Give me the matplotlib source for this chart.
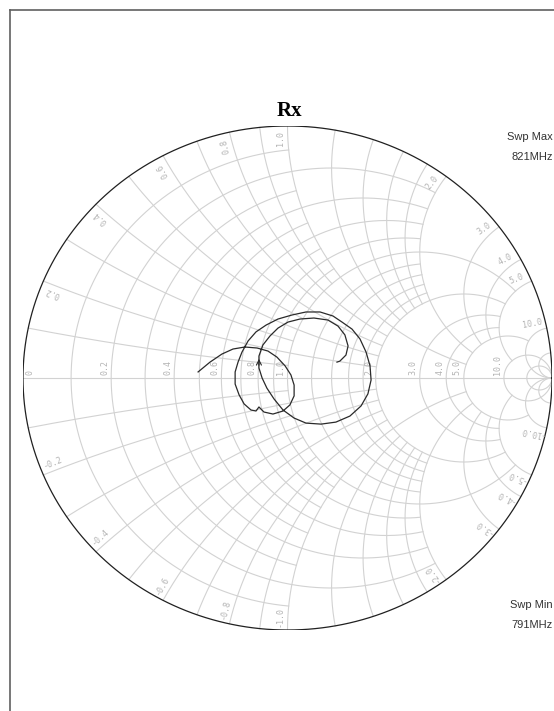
"""plot.py - Rx Smith chart (reflection coefficient trace)"""

import numpy as np
import matplotlib
matplotlib.use("Agg")
import matplotlib.pyplot as plt

# === DATA ===
# trace, reflection coefficient read off the chart (real / imag)
GAMMA_RE = [
    -0.338, -0.293, -0.248, -0.206, -0.161, -0.115, -0.074, -0.040, -0.009, 0.013,
    0.025, 0.025, 0.009, -0.017, -0.055, -0.089, -0.108, -0.119, -0.138, -0.164,
    -0.183, -0.198, -0.198, -0.187, -0.172, -0.149, -0.119, -0.081, -0.036, 0.017,
    0.070, 0.123, 0.172, 0.206, 0.244, 0.274, 0.297, 0.312, 0.316, 0.304,
    0.278, 0.236, 0.183, 0.127, 0.070, 0.025, -0.017, -0.051, -0.078, -0.096,
    -0.108, -0.108, -0.093, -0.066, -0.036, 0.002, 0.047, 0.100, 0.153, 0.191,
    0.217, 0.229, 0.221, 0.198, 0.187,
]
GAMMA_IM = [
    0.024, 0.063, 0.095, 0.115, 0.123, 0.119, 0.107, 0.083, 0.048, 0.012,
    -0.028, -0.071, -0.107, -0.131, -0.143, -0.135, -0.115, -0.131, -0.127, -0.103,
    -0.067, -0.024, 0.024, 0.063, 0.103, 0.147, 0.183, 0.210, 0.234, 0.250,
    0.262, 0.262, 0.246, 0.222, 0.194, 0.155, 0.103, 0.048, -0.008, -0.063,
    -0.111, -0.151, -0.175, -0.183, -0.179, -0.159, -0.127, -0.083, -0.040, 0.000,
    0.040, 0.087, 0.131, 0.167, 0.198, 0.222, 0.234, 0.238, 0.230, 0.206,
    0.171, 0.127, 0.091, 0.067, 0.063,
]

# grid: constant resistance circles and the reactance they run to
R_GRID = [0.1, 0.2, 0.3, 0.4, 0.5, 0.6, 0.7, 0.8, 0.9, 1.0,
          1.2, 1.4, 1.6, 1.8, 2.0, 3.0, 4.0, 5.0, 10.0, 20.0]
R_XMAX = [1, 2, 1, 2, 1, 2, 1, 2, 1, 5,
          2, 2, 2, 2, 5, 5, 5, 10, np.inf, np.inf]
# constant reactance arcs and the resistance they run to
X_GRID = [0.1, 0.2, 0.3, 0.4, 0.5, 0.6, 0.7, 0.8, 0.9, 1.0,
          1.2, 1.4, 1.6, 1.8, 2.0, 3.0, 4.0, 5.0, 10.0, 20.0]
X_RMAX = [1, 2, 1, 2, 1, 2, 1, 2, 1, 5,
          2, 2, 2, 2, 5, 5, 5, 10, np.inf, np.inf]

AXIS_LABELS = ["0", "0.2", "0.4", "0.6", "0.8", "1.0", "2.0", "3.0", "4.0", "5.0", "10.0"]
AXIS_VALUES = [0.0, 0.2, 0.4, 0.6, 0.8, 1.0, 2.0, 3.0, 4.0, 5.0, 10.0]
RIM_VALUES = [0.2, 0.4, 0.6, 0.8, 1.0, 2.0, 3.0, 4.0, 5.0, 10.0]

GRID_COLOR = "#d2d2d2"
LABEL_COLOR = "#b4b4b4"


def gamma(z):
    return (z - 1) / (z + 1)


# === FIGURE ===
fig = plt.figure(figsize=(5.54, 7.11), dpi=100)

# frame (only the left and top edges are inside the picture)
frame = fig.add_axes([10 / 554, -0.1, 1.2, (711 - 10) / 711 + 0.1])
frame.set_xticks([])
frame.set_yticks([])
for side in ["left", "top"]:
    frame.spines[side].set_color("#606060")
    frame.spines[side].set_linewidth(1.2)
frame.patch.set_alpha(0)

ax = fig.add_axes([23 / 554, 81 / 711, 529 / 554, 504 / 711])
ax.set_xlim(-1, 1)
ax.set_ylim(-1, 1)
ax.axis("off")

# resistance circles
for r, xmax in zip(R_GRID, R_XMAX):
    tmax = np.arctan(xmax) if np.isfinite(xmax) else np.pi / 2 * 0.9999
    x = np.tan(np.linspace(-tmax, tmax, 600))
    g = gamma(r + 1j * x)
    ax.plot(g.real, g.imag, color=GRID_COLOR, lw=0.8, zorder=1)

# reactance arcs
for xv, rmax in zip(X_GRID, X_RMAX):
    tmax = np.arctan(rmax) if np.isfinite(rmax) else np.pi / 2 * 0.9999
    r = np.tan(np.linspace(0, tmax, 600))
    for sign in (1, -1):
        g = gamma(r + 1j * sign * xv)
        ax.plot(g.real, g.imag, color=GRID_COLOR, lw=0.8, zorder=1)

# real axis and outer rim
ax.plot([-1, 1], [0, 0], color=GRID_COLOR, lw=0.8, zorder=1)
theta = np.linspace(0, 2 * np.pi, 721)
ax.plot(np.cos(theta), np.sin(theta), color="#202020", lw=0.9, zorder=3)

# labels along the real axis
for lab, val in zip(AXIS_LABELS, AXIS_VALUES):
    gx = gamma(val) if val > 0 else -0.95
    ax.annotate(lab, (gx, 0), xytext=(-1.5, 2.5), textcoords="offset points",
                rotation=90, rotation_mode="anchor", ha="left", va="bottom",
                fontsize=6, color=LABEL_COLOR, family="DejaVu Sans Mono")

# labels along the rim, just beside the end of each reactance arc
for val in RIM_VALUES:
    for sign in (1, -1):
        ang = np.angle(gamma(1j * sign * val))
        ang_lab = ang + sign * np.radians(1.7)
        px, py = 0.95 * np.cos(ang_lab), 0.95 * np.sin(ang_lab)
        rot = np.degrees(np.arctan2(np.sin(ang) * 252, np.cos(ang) * 264.5))
        if sign < 0:
            rot += 180
        lab = f"{sign * val:.1f}"
        ax.text(px, py, lab, rotation=rot, rotation_mode="anchor",
                ha="center", va="center", fontsize=6, color=LABEL_COLOR,
                family="DejaVu Sans Mono")

# trace
ax.plot(GAMMA_RE, GAMMA_IM, color="#2a2a2a", lw=0.9, zorder=4)
k = 51
ax.annotate("", xy=(GAMMA_RE[k], GAMMA_IM[k]), xytext=(GAMMA_RE[k - 1], GAMMA_IM[k - 1]),
            arrowprops=dict(arrowstyle="->", color="#2a2a2a", lw=0.8,
                            mutation_scale=9), zorder=4)

# title and sweep labels
fig.text(289 / 554, 1 - 111 / 711, "Rx", ha="center", va="center",
         fontsize=15, fontweight="bold", family="Liberation Serif")
for label, ypix in [("Swp Max", 137), ("821MHz", 157), ("Swp Min", 605), ("791MHz", 625)]:
    fig.text(553 / 554, 1 - ypix / 711, label, ha="right", va="center",
             fontsize=8, color="#333333", family="Liberation Sans")

fig.savefig("out.png", dpi=100)
